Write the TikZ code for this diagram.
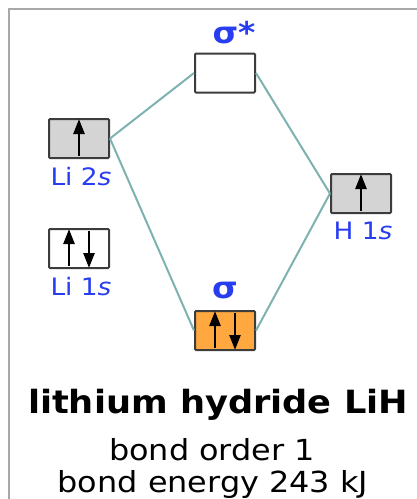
\documentclass[tikz,border=0pt]{standalone}
\usepackage{fontspec}
\setmainfont[FakeStretch=1.1]{DejaVu Sans}
\usetikzlibrary{positioning,arrows.meta}
\definecolor{frameGray}{RGB}{168,168,168}
\definecolor{boxLine}{RGB}{60,60,60}
\definecolor{orbGray}{RGB}{212,212,212}
\definecolor{orbOrange}{RGB}{255,168,64}
\definecolor{lblBlue}{RGB}{40,60,240}
\definecolor{linkTeal}{RGB}{125,178,176}
\begin{document}
\begin{tikzpicture}[x=1pt,y=-1pt,
  orbital/.style={draw=boxLine, line width=2pt, rounded corners=1pt,
    minimum width=60pt, minimum height=39pt, inner sep=0pt, fill=white},
  lbl/.style={text=lblBlue, inner sep=0pt, font=\fontsize{24}{24}\selectfont},
  molbl/.style={lbl, font=\fontsize{30}{30}\selectfont\bfseries},
  link/.style={draw=linkTeal, line width=2pt},
  spin/.style={line width=2.5pt, -{Triangle[width=11pt,length=15pt]}},
  info/.style={inner sep=0pt, anchor=base, font=\fontsize{29}{29}\selectfont}]
  \useasboundingbox (0,0) rectangle (417,499);
  \clip (0,0) rectangle (417,499);

  % frame
  \draw[frameGray, line width=2.5pt] (9,530) -- (9,9) -- (440,9);

  % orbitals
  \node[orbital] (sstar) at (225,73) {};
  \node[orbital, fill=orbGray] (li2s) at (79,138.5) {};
  \node[orbital, fill=orbGray] (h1s) at (361,193.5) {};
  \node[orbital] (li1s) at (79,248.5) {};
  \node[orbital, fill=orbOrange] (sigma) at (225,330.5) {};

  % correlation lines
  \draw[link] (li2s.east) -- (sstar.west);
  \draw[link] (sstar.east) -- (h1s.west);
  \draw[link] (li2s.east) -- (sigma.west);
  \draw[link] (sigma.east) -- (h1s.west);

  % electrons
  \foreach \o in {li2s,h1s}
    \draw[spin] ([yshift=3pt]\o.south) -- ([yshift=-1pt]\o.north);
  \foreach \o in {li1s,sigma} {
    \draw[spin] ([xshift=-10pt,yshift=3pt]\o.south) -- ([xshift=-10pt,yshift=-1pt]\o.north);
    \draw[spin] ([xshift=10pt,yshift=-3pt]\o.north) -- ([xshift=10pt,yshift=1pt]\o.south);
  }

  % labels
  \node[molbl, above=8pt of sstar, xshift=9pt] (sstarlbl) {σ*};
  \node[molbl, above=11pt of sigma] (sigmalbl) {σ};
  \node[lbl, below=8pt of li2s, xshift=2pt] (li2slbl) {Li 2\textit{s}};
  \node[lbl, below=8pt of h1s, xshift=2pt] (h1slbl) {H 1\textit{s}};
  \node[lbl, below=8pt of li1s, xshift=2pt] (li1slbl) {Li 1\textit{s}};

  % caption
  \node[info, font=\fontsize{32}{32}\selectfont\bfseries] (title) at (218,413) {lithium hydride LiH};
  \node[info] (order) at (212,460) {bond order 1};
  \node[info] (energy) at (213,492) {bond energy 243 kJ};
\end{tikzpicture}
\end{document}
